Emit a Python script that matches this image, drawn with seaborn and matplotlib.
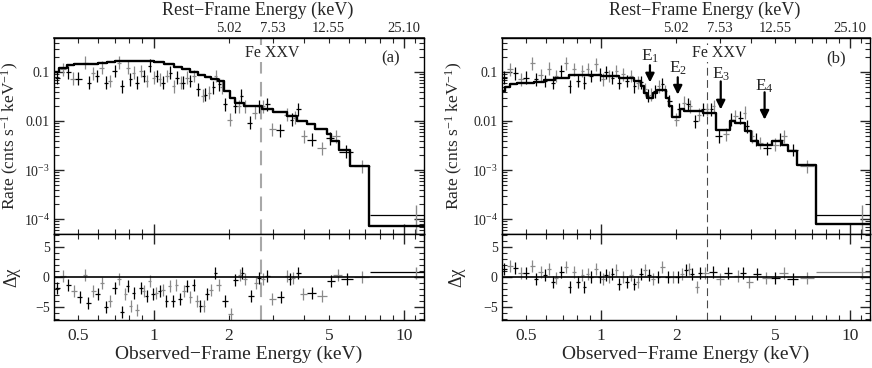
"""
X-ray spectra for two epochs: folded model + data (top) and residuals (bottom).
"""

import numpy as np
import matplotlib
matplotlib.use("Agg")
import matplotlib.pyplot as plt
import seaborn as sns
from matplotlib.ticker import FixedLocator, FixedFormatter, FuncFormatter, NullLocator

# ─── Data ─────────────────────────────────────────────────────────────
Z_FACTOR = 2.51                     # rest / observed energy
FE_XXV_OBS = 2.67                   # keV, observed frame
REST_TICKS = [5.02, 7.53, 12.55, 25.10]

# panel (a): model step function
model_a_edges = [0.40, 0.42, 0.45, 0.48, 0.52, 0.56, 0.60, 0.65, 0.70, 0.76, 0.82, 0.90,
                 1.00, 1.10, 1.20, 1.30, 1.40, 1.50, 1.60, 1.70, 1.80, 1.90, 2.02, 2.12,
                 2.30, 2.70, 3.00, 3.40, 3.75, 4.10, 4.40, 4.90, 5.10, 5.50, 6.10, 7.25, 12.0]
model_a_vals = [0.10, 0.125, 0.14, 0.145, 0.145, 0.15, 0.158, 0.165, 0.17, 0.172, 0.172, 0.168,
                0.16, 0.15, 0.13, 0.115, 0.10, 0.088, 0.08, 0.074, 0.066, 0.041, 0.030, 0.024,
                0.020, 0.0174, 0.0153, 0.0127, 0.0100, 0.0086, 0.0068, 0.0054, 0.0039, 0.0026,
                0.0012, 7.2e-5]

# panel (a): data
energy_a = [0.413, 0.434, 0.457, 0.476, 0.501, 0.533, 0.55, 0.572, 0.593, 0.621, 0.647, 0.667,
            0.698, 0.726, 0.747, 0.787, 0.807, 0.832, 0.857, 0.89, 0.912, 0.94, 0.964, 1.0,
            1.03, 1.057, 1.09, 1.13, 1.166, 1.2, 1.24, 1.28, 1.31, 1.36, 1.40, 1.45, 1.50,
            1.57, 1.61, 1.67, 1.73, 1.77, 1.83, 1.87, 1.92, 2.01, 2.11, 2.19, 2.24, 2.31,
            2.42, 2.53, 2.64, 2.74, 2.84, 2.98, 3.19, 3.41, 3.55, 3.66, 3.78, 3.98, 4.27,
            4.68, 5.06, 5.34, 5.86, 6.79]
rate_a = [0.078, 0.115, 0.099, 0.074, 0.074, 0.158, 0.061, 0.095, 0.084, 0.125, 0.061, 0.066,
          0.106, 0.158, 0.052, 0.125, 0.072, 0.098, 0.061, 0.106, 0.084, 0.066, 0.135, 0.078,
          0.084, 0.072, 0.061, 0.084, 0.098, 0.052, 0.078, 0.061, 0.061, 0.078, 0.066, 0.084,
          0.045, 0.033, 0.035, 0.038, 0.049, 0.084, 0.057, 0.049, 0.022, 0.0108, 0.0203,
          0.020, 0.033, 0.020, 0.0093, 0.0149, 0.020, 0.020, 0.022, 0.0068, 0.0065, 0.0137,
          0.0108, 0.0118, 0.0174, 0.0049, 0.0042, 0.0028, 0.0045, 0.0049, 0.0024, 0.0012]
res_energy_a = [0.413, 0.434, 0.457, 0.481, 0.506, 0.533, 0.549, 0.575, 0.597, 0.621, 0.647,
                0.667, 0.698, 0.726, 0.747, 0.770, 0.787, 0.811, 0.832, 0.857, 0.889, 0.912,
                0.940, 0.964, 0.994, 1.025, 1.057, 1.089, 1.124, 1.159, 1.194, 1.232, 1.27,
                1.318, 1.359, 1.402, 1.446, 1.490, 1.537, 1.585, 1.633, 1.695, 1.765, 1.820,
                1.923, 2.028, 2.12, 2.21, 2.26, 2.31, 2.44, 2.56, 2.64, 2.74, 2.84, 2.98,
                3.21, 3.42, 3.50, 3.61, 3.78, 3.96, 4.27, 4.69, 5.09, 5.42, 5.91, 6.78]
resid_a = [-1.8, 0.1, -1.3, -2.4, -3.4, 0.4, -4.3, -2.4, -2.9, -1.0, -5.1, -4.0, -1.8, -0.4,
           -5.9, -2.9, -1.5, -4.8, -2.6, -5.6, -1.8, -2.4, -3.2, -0.7, -2.9, -2.6, -2.4, -2.1,
           -4.0, -1.5, -4.0, -1.3, -3.7, -2.4, -1.5, -3.4, -1.3, -4.0, -4.8, -4.8, -2.9, -2.1,
           0.7, -1.3, -4.0, -6.2, -0.5, 0.4, 0.7, -0.4, -3.2, -1.0, -0.2, -0.4, 0.1, -3.7,
           -3.3, 0.1, -0.4, -0.2, 0.7, -2.9, -2.6, -3.2, -0.7, 0.4, -0.3, 0.0]

# panel (b): model step function
model_b_edges = [0.40, 0.41, 0.43, 0.46, 0.54, 0.59, 0.65, 0.74, 1.00, 1.18, 1.36, 1.45, 1.49,
                 1.53, 1.62, 1.68, 1.82, 1.88, 1.93, 2.08, 2.15, 2.56, 2.90, 3.29, 3.46, 3.78,
                 4.00, 4.27, 4.85, 5.30, 5.60, 6.10, 7.30, 12.0]
model_b_vals = [0.041, 0.049, 0.057, 0.061, 0.063, 0.070, 0.078, 0.087, 0.084, 0.078, 0.066,
                0.052, 0.038, 0.030, 0.038, 0.043, 0.030, 0.020, 0.0123, 0.0174, 0.016, 0.0144,
                0.0065, 0.0100, 0.0090, 0.0062, 0.0039, 0.0032, 0.0039, 0.0033, 0.0025, 0.0013,
                8e-5]

# panel (b): data
energy_b = [0.408, 0.430, 0.453, 0.476, 0.501, 0.530, 0.546, 0.572, 0.593, 0.618, 0.641, 0.660,
            0.692, 0.725, 0.747, 0.778, 0.807, 0.839, 0.857, 0.884, 0.912, 0.955, 0.985, 1.016,
            1.047, 1.08, 1.11, 1.15, 1.18, 1.22, 1.27, 1.32, 1.36, 1.40, 1.45, 1.50, 1.54,
            1.58, 1.64, 1.70, 1.76, 1.81, 1.88, 2.0, 2.06, 2.15, 2.23, 2.28, 2.39, 2.47, 2.56,
            2.66, 2.77, 2.83, 2.96, 3.17, 3.33, 3.46, 3.62, 3.77, 3.85, 4.03, 4.18, 4.35, 4.63,
            5.0, 5.24, 5.44, 5.87, 6.70]
rate_b = [0.078, 0.115, 0.095, 0.072, 0.078, 0.153, 0.072, 0.087, 0.066, 0.119, 0.061, 0.084,
          0.106, 0.153, 0.052, 0.115, 0.066, 0.106, 0.061, 0.115, 0.084, 0.146, 0.091, 0.072,
          0.099, 0.084, 0.078, 0.106, 0.061, 0.091, 0.066, 0.084, 0.052, 0.061, 0.062, 0.045,
          0.033, 0.035, 0.041, 0.052, 0.057, 0.041, 0.026, 0.0108, 0.0174, 0.024, 0.022, 0.020,
          0.0100, 0.0137, 0.0174, 0.0174, 0.0174, 0.020, 0.0049, 0.0054, 0.0108, 0.0127,
          0.0118, 0.0149, 0.0079, 0.0049, 0.0042, 0.0036, 0.0028, 0.0033, 0.0042, 0.0049,
          0.0026, 0.0012]
res_energy_b = [0.408, 0.430, 0.453, 0.476, 0.501, 0.530, 0.546, 0.572, 0.593, 0.618, 0.641,
                0.660, 0.692, 0.725, 0.747, 0.778, 0.807, 0.839, 0.857, 0.884, 0.912, 0.955,
                0.985, 1.016, 1.047, 1.08, 1.11, 1.15, 1.18, 1.22, 1.27, 1.32, 1.36, 1.40, 1.45,
                1.50, 1.56, 1.61, 1.69, 1.76, 1.85, 1.94, 2.03, 2.12, 2.19, 2.26, 2.31, 2.42,
                2.49, 2.62, 2.81, 3.0, 3.23, 3.54, 3.71, 3.94, 4.23, 4.6, 5.0, 5.41, 5.87, 6.7]
resid_b = [1.4, 1.9, 1.5, 0.7, 0.7, 1.9, -0.3, 0.8, 0.3, 1.4, -0.8, -0.1, 0.8, 1.6, -1.6, 0.8,
           -0.8, 0.3, -1.6, 0.5, 0.0, 1.4, 0.0, -0.3, 0.3, 0.0, 0.5, 1.1, -1.1, 0.0, -0.8, 0.3,
           -1.1, -0.8, 0.5, 1.1, 0.3, -0.3, 0.0, 1.6, 0.0, 0.0, 0.0, 0.5, 1.1, 1.4, 0.5, -1.6,
           0.7, 0.7, 0.8, -0.3, 0.7, 0.2, 0.7, -0.9, 0.5, -0.2, -0.2, 0.7, -0.4, -0.1]

# last (wide) bins above 7 keV: [black wide bin, grey narrow bin]
tail_energy = [9.6, 11.1]
tail_rate = [1.2e-4, 1.2e-4]
tail_resid = [0.8, 0.7]

# absorption features in panel (b): label, energy, arrow tail, arrow head, label y
edge_labels = ["E$_1$", "E$_2$", "E$_3$", "E$_4$"]
edge_energy = [1.57, 2.03, 3.02, 4.53]
edge_tail = [0.139, 0.079, 0.065, 0.039]
edge_head = [0.062, 0.035, 0.0174, 0.0108]
edge_text_y = [0.215, 0.118, 0.090, 0.051]

GREY = "#8a8a8a"
FIG_W, FIG_H = 872, 368


def xerr_from_spacing(e):
    e = np.asarray(e)
    w = np.gradient(np.log10(e)) / 2.0
    return np.vstack([e - e * 10 ** (-w), e * 10 ** w - e])


def style_xaxis(ax, labels):
    ax.set_xscale("log")
    ax.set_xlim(0.4, 12)
    minor = [v for v in np.concatenate([np.arange(0.4, 1.0, 0.1), np.arange(2, 10), [11, 12]])]
    ax.xaxis.set_major_locator(FixedLocator([1, 10]))
    ax.xaxis.set_minor_locator(FixedLocator(minor))
    if labels:
        ax.xaxis.set_major_formatter(FixedFormatter(["1", "10"]))
        ax.xaxis.set_minor_formatter(FuncFormatter(
            lambda v, p: {0.5: "0.5", 2.0: "2", 5.0: "5"}.get(round(v, 2), "")))
    else:
        ax.xaxis.set_major_formatter(FuncFormatter(lambda v, p: ""))
        ax.xaxis.set_minor_formatter(FuncFormatter(lambda v, p: ""))
    ax.tick_params(axis="x", which="both", direction="in", top=True, bottom=True,
                   labelsize=12.5, pad=6)
    ax.tick_params(axis="x", which="major", length=7, width=1.0)
    ax.tick_params(axis="x", which="minor", length=3.5, width=0.8)


def draw_data(ax, e, y, yerr):
    xe = xerr_from_spacing(e)
    e = np.asarray(e)
    y = np.asarray(y)
    for k, c in ((1, GREY), (0, "black")):
        sel = np.arange(len(e)) % 2 == k
        ax.errorbar(e[sel], y[sel], xerr=xe[:, sel], yerr=yerr[:, sel], fmt="none",
                    ecolor=c, elinewidth=0.9, capsize=0, zorder=2)


def draw_panel(fig, left, width, edges, vals, e, r, re, res, tag, dash_color, dash_lw,
               ylabel_x):
    h_top = (234 - 38) / FIG_H
    h_bot = (320 - 234) / FIG_H
    ax = fig.add_axes([left, 1 - 234 / FIG_H, width, h_top])
    axr = fig.add_axes([left, 1 - 320 / FIG_H, width, h_bot])

    # ── upper: spectrum ──
    ax.set_yscale("log")
    style_xaxis(ax, labels=False)
    ax.set_ylim(5e-5, 0.5)
    r = np.asarray(r)
    draw_data(ax, e, r, np.vstack([r * (1 - 1 / 1.35), r * 0.35]))
    ax.errorbar([tail_energy[0]], [tail_rate[0]], xerr=[[2.3], [3.4]], fmt="none",
                ecolor="black", elinewidth=0.9)
    ax.errorbar([tail_energy[1]], [tail_rate[1]], yerr=[[1.15e-4], [0.75e-4]], fmt="none",
                ecolor=GREY, elinewidth=1.0)
    sns.lineplot(x=edges, y=list(vals) + [vals[-1]], drawstyle="steps-post", color="black",
                 lw=1.7, ax=ax, legend=False, zorder=3)
    ax.axvline(FE_XXV_OBS, color=dash_color, lw=dash_lw, dashes=(7, 4), zorder=1)

    ax.set_yticks([1e-4, 1e-3, 1e-2, 1e-1],
                  labels=["10$^{-4}$", "10$^{-3}$", "0.01", "0.1"])
    ax.yaxis.set_minor_locator(FixedLocator(
        [m * 10.0 ** d for d in range(-5, 0) for m in range(2, 10)]))
    ax.tick_params(axis="y", which="both", direction="in", left=True, right=True,
                   labelsize=10, pad=3)
    ax.tick_params(axis="y", which="major", length=7, width=1.0)
    ax.tick_params(axis="y", which="minor", length=3.5, width=0.8)
    ax.set_ylabel("Rate (cnts s$^{-1}$ keV$^{-1}$)", fontsize=12.5)
    ax.yaxis.set_label_coords(ylabel_x, 0.5)

    sec = ax.secondary_xaxis("top", functions=(lambda x: x * Z_FACTOR, lambda x: x / Z_FACTOR))
    sec.set_xticks(REST_TICKS, labels=[f"{v:.2f}" for v in REST_TICKS])
    sec.xaxis.set_minor_locator(NullLocator())
    sec.tick_params(axis="x", length=0, pad=2, labelsize=10.5)
    ax.text(0.55, 1.14, "Rest\u2212Frame Energy (keV)", transform=ax.transAxes,
            ha="center", va="center", fontsize=13)

    ax.text(2.97, 0.245, "Fe XXV", ha="center", va="center", fontsize=11.5,
            bbox=dict(facecolor="white", edgecolor="none", pad=0.5))
    ax.text(8.8, 0.19, f"({tag})", ha="center", va="center", fontsize=12)

    # ── lower: residuals ──
    style_xaxis(axr, labels=True)
    axr.set_ylim(-7.2, 7.2)
    draw_data(axr, re, np.asarray(res), np.ones((2, len(re))))
    axr.errorbar([tail_energy[0]], [tail_resid[0]], xerr=[[2.3], [3.4]], fmt="none",
                 ecolor="black" if tag == "a" else GREY, elinewidth=0.9)
    axr.errorbar([tail_energy[1]], [tail_resid[1]], yerr=1.0, fmt="none", ecolor=GREY,
                 elinewidth=1.0)
    axr.axhline(0, color="black", lw=1.2, zorder=3)
    axr.axvline(FE_XXV_OBS, color=dash_color, lw=dash_lw, dashes=(7, 4), zorder=1)
    axr.set_yticks([-5, 0, 5], labels=["\u22125", "0", "5"])
    axr.yaxis.set_minor_locator(FixedLocator(range(-7, 8)))
    axr.tick_params(axis="y", which="both", direction="in", left=True, right=True,
                    labelsize=10, pad=3)
    axr.tick_params(axis="y", which="major", length=7, width=1.0)
    axr.tick_params(axis="y", which="minor", length=3.5, width=0.8)
    axr.set_ylabel("\u0394\u03c7", fontsize=13)
    axr.yaxis.set_label_coords(ylabel_x, 0.5)
    axr.set_xlabel("Observed\u2212Frame Energy (keV)", fontsize=14, labelpad=1)

    for a in (ax, axr):
        for s in a.spines.values():
            s.set_linewidth(1.0)
            s.set_color("black")
    return ax, axr


def main():
    sns.set_theme(style="ticks")
    plt.rcParams["font.family"] = ["Liberation Serif", "DejaVu Serif"]
    plt.rcParams["mathtext.fontset"] = "custom"
    plt.rcParams["mathtext.rm"] = "Liberation Serif"
    plt.rcParams["mathtext.it"] = "Liberation Serif:italic"
    plt.rcParams["axes.unicode_minus"] = True

    fig = plt.figure(figsize=(FIG_W / 100, FIG_H / 100), dpi=100)

    draw_panel(fig, 54 / FIG_W, 370 / FIG_W, model_a_edges, model_a_vals, energy_a, rate_a,
               res_energy_a, resid_a, "a", "#a8a8a8", 1.5, -0.09)
    ax_b, _ = draw_panel(fig, 502 / FIG_W, 368 / FIG_W, model_b_edges, model_b_vals, energy_b,
                         rate_b, res_energy_b, resid_b, "b", "#4a4a4a", 0.8, -0.1)

    for lab, e, t, h, ty in zip(edge_labels, edge_energy, edge_tail, edge_head, edge_text_y):
        ax_b.annotate("", xy=(e, h), xytext=(e, t),
                      arrowprops=dict(arrowstyle="-|>", color="black", lw=1.6,
                                      mutation_scale=13, shrinkA=0, shrinkB=0))
        ax_b.text(e, ty, lab, ha="center", va="center", fontsize=12.5)

    fig.savefig("out.png", dpi=100)
    plt.close(fig)


if __name__ == "__main__":
    main()
